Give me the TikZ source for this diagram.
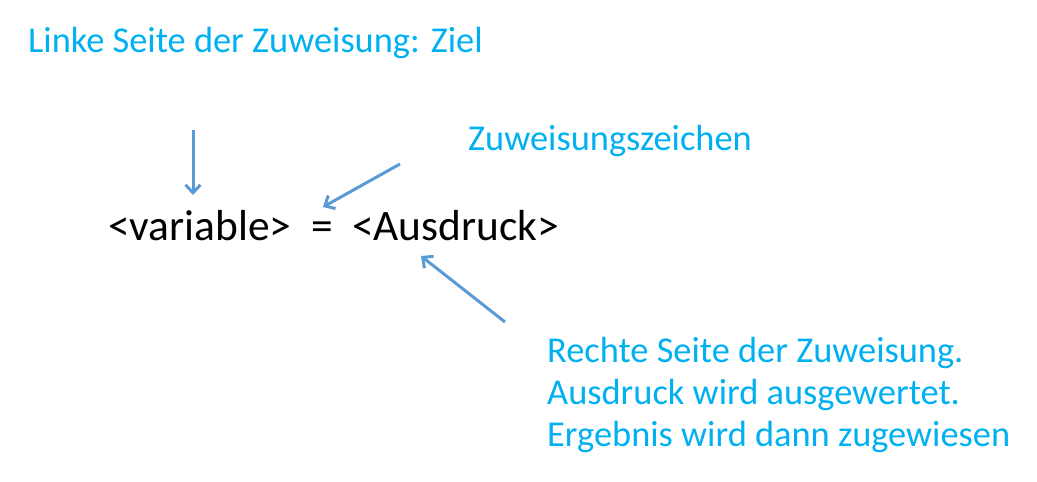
\documentclass[tikz,border=0pt]{standalone}
\usepackage{fontspec}
\setmainfont{Carlito}
\usetikzlibrary{arrows.meta}
\definecolor{txtblue}{HTML}{00B0F0}
\definecolor{arrblue}{HTML}{5B9BD5}
\tikzset{
  bluetext/.style={text=txtblue, font=\fontsize{36.4bp}{42bp}\selectfont, anchor=base west, inner sep=0pt, align=left},
  blacktext/.style={text=black, font=\fontsize{43.4bp}{50bp}\selectfont, anchor=base west, inner sep=0pt},
  pointer/.style={draw=arrblue, line width=3bp, -{Straight Barb[length=8bp,width=15bp,line width=3bp]}}
}
\begin{document}
\begin{tikzpicture}[x=1bp,y=-1bp]
\useasboundingbox (0,0) rectangle (1037,482);
\node[bluetext] (ziel) at (28,53) {Linke Seite der Zuweisung: Ziel};
\node[bluetext] (zeichen) at (468,151) {Zuweisungszeichen};
\node[blacktext] (zuw) at (108,241) {<variable>\ \ =\ \ <Ausdruck>};
\node[bluetext] (rechts) at (547,446) {Rechte Seite der Zuweisung.\\Ausdruck wird ausgewertet.\\Ergebnis wird dann zugewiesen};
\coordinate (a1s) at (193,130);
\coordinate (a1e) at (193,195);
\coordinate (a2s) at (400,164);
\coordinate (a2e) at (323,207);
\coordinate (a3s) at (505,322);
\coordinate (a3e) at (421,256);
\draw[pointer] (a1s) -- (a1e);
\draw[pointer] (a2s) -- (a2e);
\draw[pointer] (a3s) -- (a3e);
\end{tikzpicture}
\end{document}
